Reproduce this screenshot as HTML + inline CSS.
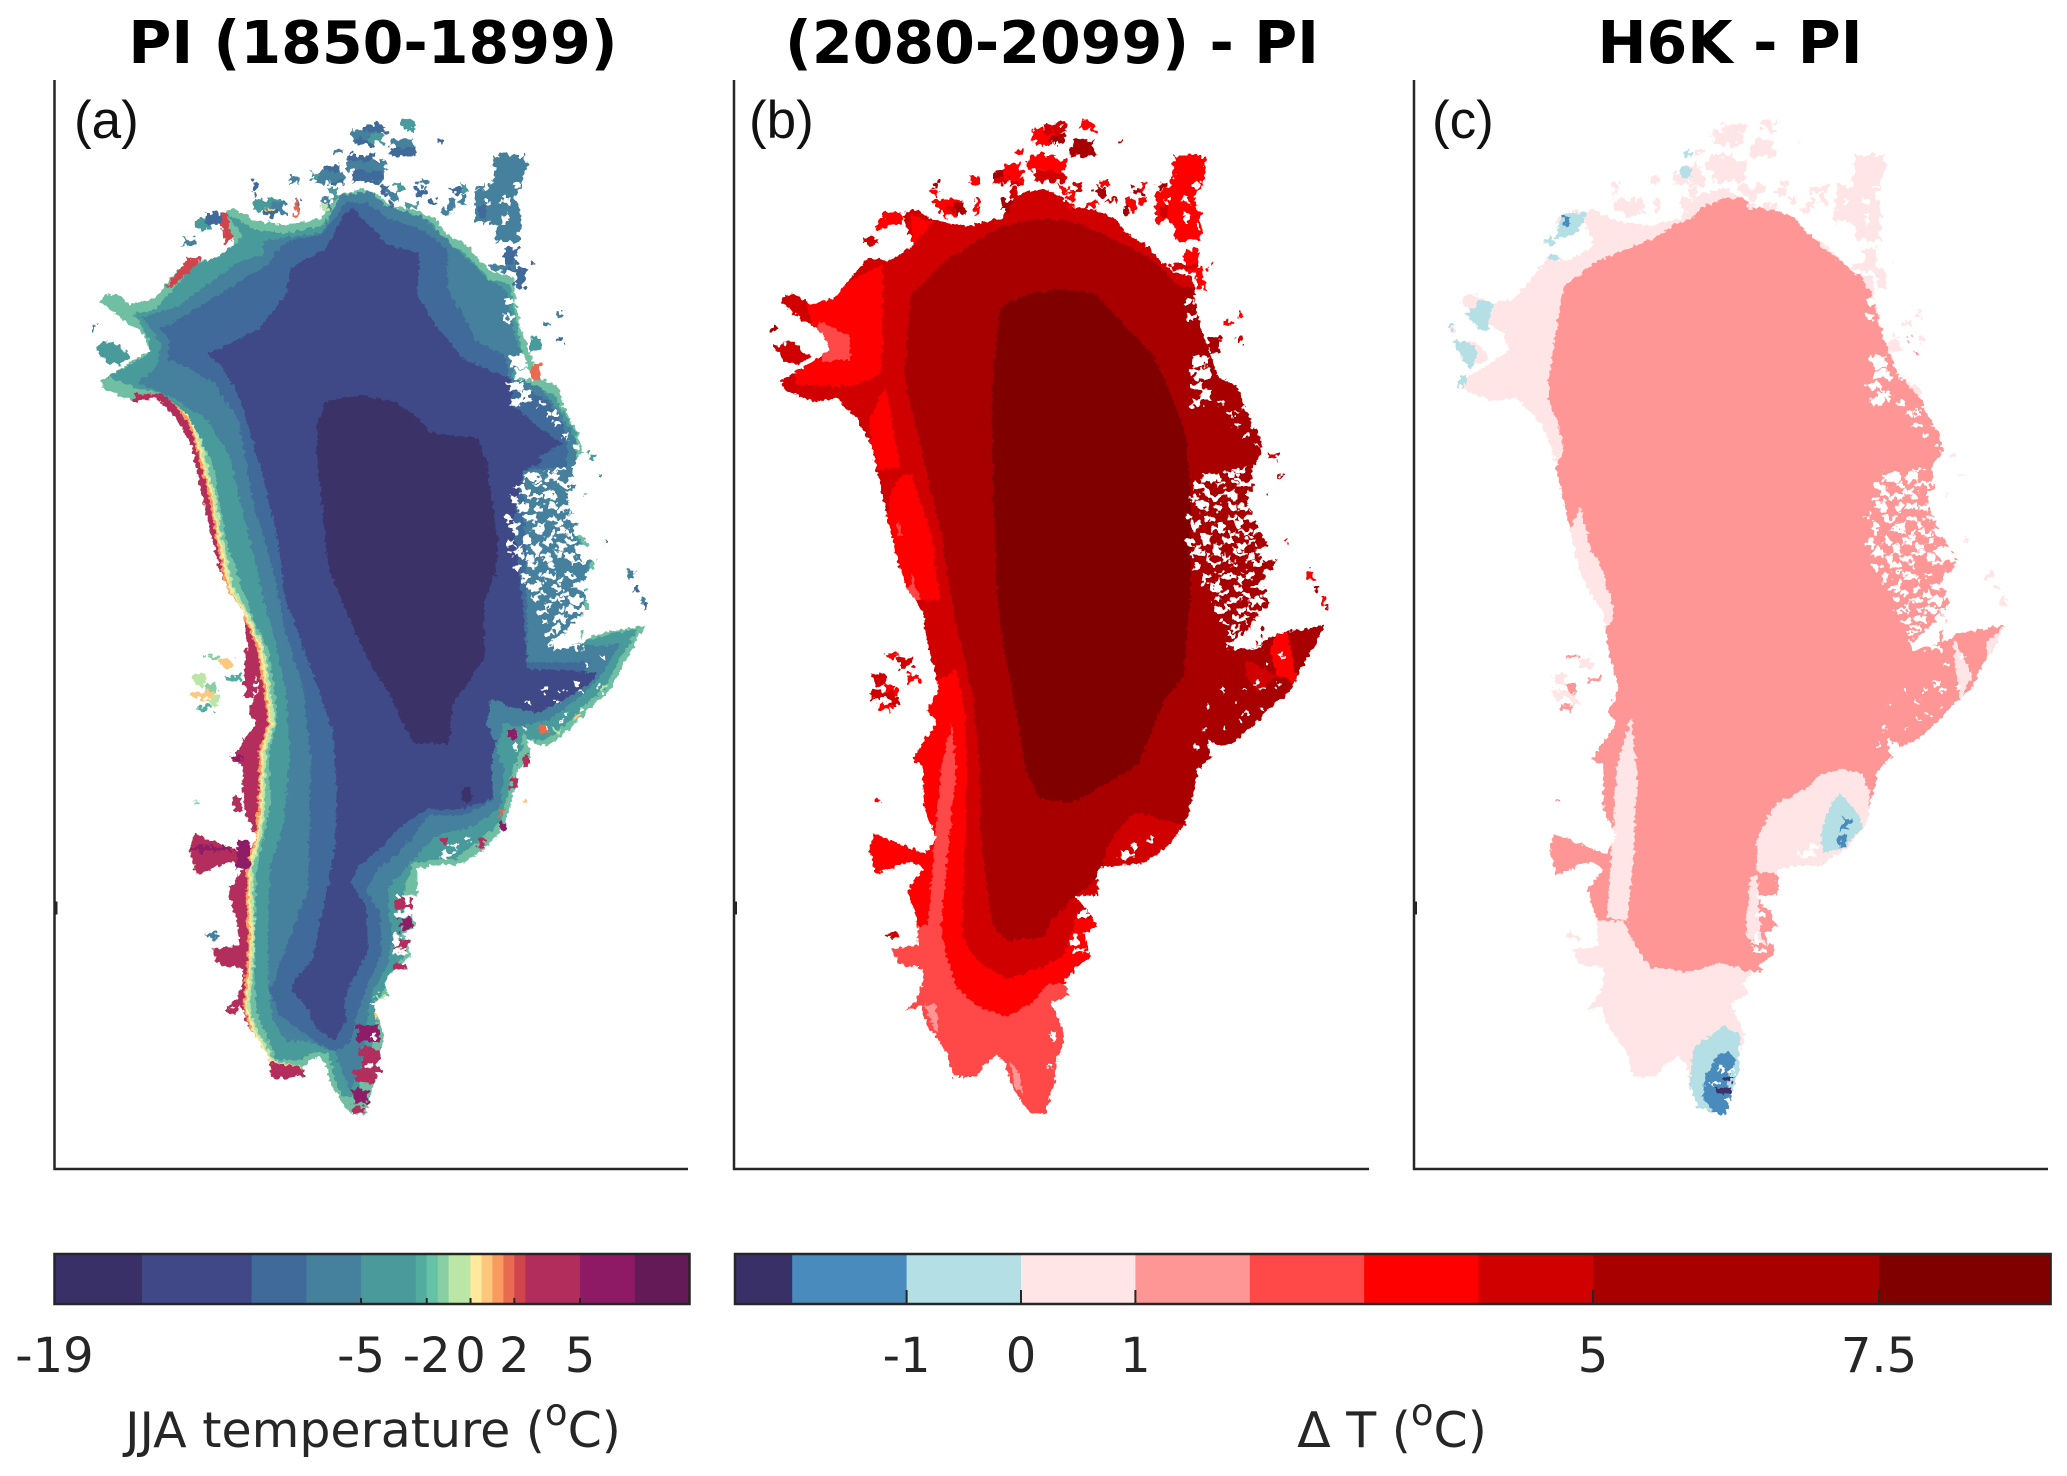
<!DOCTYPE html>
<html lang="en">
<head>
<meta charset="utf-8">
<title>Greenland JJA temperature panels</title>
<style>
html,body{margin:0;padding:0;background:#fff;}
svg{display:block;}
text{font-family:"DejaVu Sans",sans-serif;fill:#262626;}
.title{font-weight:bold;font-size:58.6px;fill:#000;text-anchor:middle;}
.plabel{font-family:"Liberation Sans",sans-serif;font-size:53px;fill:#111;}
.tick{font-size:48px;text-anchor:middle;}
.cbtitle{font-size:49px;text-anchor:middle;}
</style>
</head>
<body>
<svg id="fig" xmlns="http://www.w3.org/2000/svg" width="2067" height="1476" viewBox="0 0 2067 1476">
<rect width="2067" height="1476" fill="#fff"/>
<defs id="defs">
<filter id="rough" filterUnits="userSpaceOnUse" x="0" y="80" width="2067" height="1100">
<feTurbulence type="fractalNoise" baseFrequency="0.22" numOctaves="2" seed="4" result="n"/>
<feDisplacementMap in="SourceGraphic" in2="n" scale="7" xChannelSelector="R" yChannelSelector="G"/>
</filter>
<filter id="rougher" filterUnits="userSpaceOnUse" x="0" y="80" width="2067" height="1100">
<feTurbulence type="fractalNoise" baseFrequency="0.16" numOctaves="2" seed="9" result="n"/>
<feDisplacementMap in="SourceGraphic" in2="n" scale="13" xChannelSelector="G" yChannelSelector="R"/>
</filter>
</defs>
<g id="maps"></g>
<g id="axes"></g>
<g id="bars"></g>
<text class="title" x="373" y="63">PI (1850-1899)</text>
<text class="title" x="1052" y="63">(2080-2099) - PI</text>
<text class="title" x="1730" y="63">H6K - PI</text>
<text class="plabel" x="74" y="138">(a)</text>
<text class="plabel" x="749" y="138">(b)</text>
<text class="plabel" x="1432" y="138">(c)</text>
<text class="cbtitle" x="373" y="1447">JJA temperature (<tspan dy="-22" font-size="37">o</tspan><tspan dy="22">C)</tspan></text>
<text class="cbtitle" x="1392" y="1447">&#916; T (<tspan dy="-22" font-size="37">o</tspan><tspan dy="22">C)</tspan></text>
</svg>
<script>
// ---------- colour bar data ----------
var levelsA = [-19,-15,-10,-7.5,-5,-2.5,-2,-1.5,-1,0,0.5,1,1.5,2,2.5,5,7.5,10];
var colorsA = ['#3a3068','#414888','#3f6a9a','#45809c','#4a9a9b','#52ac9f','#66c2a5','#88d0a4','#bbe6a8','#fee99d','#fdc77d','#f99b5f','#e86a50','#d0444e','#b32d5c','#8e1a66','#651a58'];
var ticksA = [-19,-5,-2,0,2,5];
var tickLabelsA = ['-19','-5','-2','0','2','5'];
var levelsB = [-2.5,-2,-1,0,1,2,3,4,5,7.5,9];
var colorsB = ['#3a3068','#4a8bbd','#b4dfe5','#ffe5e5','#ff9696','#ff4848','#ff0000','#d00000','#a80000','#800000'];
var ticksB = [-1,0,1,5,7.5];
var tickLabelsB = ['-1','0','1','5','7.5'];

// ---------- map data (grid coordinates) ----------
var outline = [[770,505],[815,492],[850,512],[880,540],[930,548],[975,570],[1000,610],[1045,640],[1080,685],[1105,712],[1150,722],[1155,790],[1168,860],[1190,930],[1205,985],[1250,1010],[1270,1080],[1295,1130],[1305,1180],[1280,1225],[1290,1270],[1270,1310],[1300,1390],[1335,1460],[1320,1530],[1320,1568],[1310,1620],[1300,1680],[1340,1655],[1445,1633],[1420,1690],[1385,1760],[1370,1800],[1330,1840],[1290,1890],[1240,1940],[1210,1950],[1180,1930],[1190,1980],[1160,2010],[1150,2070],[1130,2160],[1085,2220],[1030,2260],[990,2260],[935,2270],[935,2340],[885,2340],[915,2380],[935,2420],[905,2440],[920,2500],[885,2530],[860,2570],[870,2600],[830,2620],[850,2670],[862,2710],[845,2770],[838,2830],[830,2860],[820,2912],[785,2908],[765,2880],[740,2830],[730,2780],[710,2760],[680,2785],[665,2813],[610,2813],[600,2760],[580,2720],[555,2680],[540,2630],[505,2640],[530,2610],[545,2570],[545,2530],[490,2520],[475,2480],[535,2470],[530,2400],[510,2325],[545,2270],[515,2250],[440,2285],[425,2220],[435,2178],[480,2200],[550,2230],[575,2190],[545,2110],[545,2000],[520,1985],[550,1930],[575,1890],[555,1860],[580,1800],[555,1690],[545,1600],[510,1540],[490,1480],[470,1380],[440,1230],[430,1170],[400,1100],[350,1040],[300,1050],[235,1020],[225,995],[290,950],[335,915],[320,870],[280,840],[225,790],[235,770],[265,770],[290,795],[345,780],[420,675],[470,680],[525,640],[505,590],[500,560],[520,545],[570,575],[640,590],[720,570],[750,515]];
var neBlock = [[1105,405],[1175,405],[1178,445],[1165,470],[1172,490],[1150,510],[1165,545],[1165,630],[1110,630],[1100,575],[1065,585],[1065,500],[1100,490],[1108,450]];
var nwIsland = [[210,905],[255,890],[290,930],[270,955],[235,945]];
var islandRects = [[790,340,60,25],[815,325,50,20],[900,315,25,20],[880,365,45,40],[780,405,60,30],[810,430,50,45],[725,430,35,30],[700,450,25,20],[750,390,20,15],[740,455,30,30],[650,460,20,20],[565,475,15,20],[570,520,60,30],[600,540,40,20],[660,520,10,40],[720,520,20,30],[850,485,20,20],[885,480,20,20],[940,470,20,15],[1010,490,30,15],[1000,520,20,30],[960,520,20,10],[905,530,30,15],[1070,480,15,15],[1130,650,30,60],[1100,690,60,15],[1155,700,22,55],[1185,880,25,40],[1215,840,20,10],[1250,880,10,15],[1250,815,8,15],[980,365,10,8],[440,570,30,30],[410,620,30,20],[460,555,40,30],[205,850,12,15],[1190,685,6,6],[1320,1185,15,15],[1405,1490,15,25],[1420,1530,12,15],[1435,1560,12,20],[1445,1578,6,10],[1310,1290,8,10],[1340,1240,12,6],[1355,1410,8,8],[465,2440,25,12],[795,360,40,20],[830,350,30,25],[775,420,90,25],[790,445,65,30],[720,445,50,30],[875,385,55,25],[915,320,15,25],[705,465,30,15],[565,500,10,15],[610,530,30,30],[590,550,30,15],[740,490,15,30],[870,500,20,25],[930,490,25,20],[1030,510,15,25],[1075,540,15,30],[1035,480,10,20],[990,540,15,20],[870,530,15,15]];
var swIslandRects = [[460,1710,30,10],[490,1720,30,25],[510,1765,30,15],[435,1760,25,30],[460,1790,25,25],[430,1805,50,20],[445,1840,30,15],[470,1820,20,25],[435,2090,12,6]];
var fjordHole = [[1325,1600],[1300,1650],[1300,1680],[1240,1700],[1225,1680],[1250,1665],[1280,1640],[1290,1610]];
var fjordRects = [[1145,930,35,30],[1150,965,40,25],[1140,1000,30,20],[1165,1020,25,25],[1145,1040,25,20],[1205,1050,15,10],[1225,1075,12,12],[1240,1105,15,10],[1260,1135,12,12],[1130,780,20,15],[1135,820,15,20],[1180,1235,30,10],[1240,1225,25,8],[1300,1235,40,15],[1150,1265,25,12],[1200,1262,20,10],[1245,1258,40,12],[1290,1265,20,20],[1145,1295,15,12],[1185,1292,30,12],[1235,1290,15,15],[1270,1295,30,15],[1160,1325,18,12],[1200,1320,15,18],[1250,1320,30,15],[1130,1345,15,15],[1175,1350,25,10],[1225,1350,20,15],[1265,1345,35,15],[1150,1380,10,15],[1190,1378,30,12],[1250,1380,15,12],[1285,1378,30,20],[1135,1410,15,20],[1170,1412,20,12],[1215,1405,25,15],[1270,1410,20,12],[1320,1405,30,25],[1145,1440,30,12],[1195,1438,15,15],[1240,1440,25,10],[1150,1475,15,12],[1185,1468,25,12],[1230,1470,15,12],[1280,1465,30,10],[1170,1498,15,15],[1215,1500,30,12],[1265,1495,20,15],[1310,1490,40,30],[1185,1530,25,12],[1240,1530,15,15],[1280,1525,25,12],[1195,1558,15,15],[1230,1562,30,10],[1275,1560,30,18],[1200,1590,25,12],[1250,1588,15,15],[1300,1590,30,15],[1215,1620,15,10],[1240,1610,30,15],[1285,1615,25,12],[1225,1650,15,12],[1265,1645,15,15],[1235,1685,70,10],[1395,1770,8,8],[1335,1790,6,8],[1300,1800,8,8],[1250,1880,8,6],[1010,2205,15,12],[1045,2190,15,10],[985,2225,30,15],[1000,2265,40,8],[905,2345,15,15],[890,2380,25,15],[880,2440,15,30],[880,2480,30,12],[845,2620,12,10],[830,2700,12,15],[820,2780,15,10],[1100,590,12,20],[1125,515,15,15],[1150,480,15,10],[1130,560,10,25],[1085,520,10,15]];
var fjordRects2 = [[1170,1240,40,18],[1225,1235,25,20],[1280,1245,45,20],[1165,1275,20,20],[1215,1280,25,15],[1270,1280,15,25],[1155,1310,25,18],[1225,1315,20,15],[1285,1320,50,20],[1145,1365,20,15],[1205,1365,15,20],[1245,1360,15,15],[1170,1395,15,18],[1230,1390,15,15],[1265,1385,15,18],[1155,1425,10,15],[1195,1422,15,18],[1245,1420,20,18],[1290,1430,40,20],[1180,1450,12,18],[1215,1452,20,15],[1270,1445,15,18],[1300,1445,35,20],[1170,1500,10,25],[1205,1490,8,10],[1250,1510,10,15],[1200,1515,12,15],[1300,1515,30,25],[1210,1545,15,12],[1260,1545,15,15],[1310,1540,25,30],[1220,1575,12,15],[1270,1585,15,15],[1235,1635,20,12],[1280,1590,20,10],[1180,1835,8,8],[1215,1800,8,10],[1240,1830,10,10],[1260,1800,8,8],[1285,1780,10,10],[1310,1735,8,10],[1345,1710,8,10],[1220,1900,8,8],[1265,1860,8,10],[1300,1850,8,8],[1170,1900,10,8],[1155,1945,8,12],[1260,1060,20,8],[1280,1100,15,12],[1285,1160,12,10],[1240,1075,12,8]];

// panel (a) layers
var warmCoastA = [[300,1030],[370,1030],[420,1100],[440,1170],[452,1230],[468,1300],[482,1400],[505,1530],[540,1600],[575,1690],[590,1800],[600,1888],[580,1960],[578,2108],[570,2188],[550,2268],[552,2368],[555,2468],[548,2570],[545,2640],[560,2690],[600,2775],[680,2790],[680,2900],[300,2900]];
var coolC1 = [[770,515],[815,505],[850,525],[880,550],[930,560],[970,585],[990,625],[1035,655],[1075,700],[1100,730],[1140,740],[1150,790],[1160,860],[1170,930],[1150,990],[1240,1030],[1290,1130],[1290,1180],[1270,1225],[1280,1270],[1260,1310],[1290,1390],[1325,1460],[1310,1540],[1310,1600],[1295,1680],[1340,1665],[1430,1640],[1400,1700],[1370,1760],[1355,1800],[1320,1830],[1280,1880],[1230,1930],[1200,1935],[1170,1920],[1170,1960],[1150,2000],[1140,2070],[1120,2150],[1070,2200],[1020,2245],[985,2245],[925,2255],[905,2330],[900,2420],[905,2500],[875,2540],[850,2610],[840,2700],[825,2780],[800,2860],[770,2870],[750,2820],[735,2750],[700,2750],[670,2770],[620,2770],[605,2730],[590,2690],[572,2640],[570,2530],[572,2400],[575,2268],[590,2190],[605,2100],[605,1960],[620,1880],[615,1800],[600,1690],[575,1640],[540,1530],[505,1400],[490,1300],[475,1210],[450,1150],[420,1085],[365,1030],[300,1010],[240,985],[330,930],[335,890],[300,820],[345,810],[440,690],[510,650],[545,620],[510,560],[570,600],[640,610],[720,590],[760,530]];
var coolC2 = [[760,510],[830,500],[860,535],[950,570],[985,610],[1060,690],[1090,725],[1135,760],[1150,860],[1170,940],[1140,985],[1210,1010],[1260,1090],[1290,1150],[1290,1400],[1320,1470],[1300,1620],[1295,1680],[1340,1690],[1390,1680],[1350,1760],[1300,1820],[1230,1880],[1160,1900],[1130,1890],[1110,1960],[1130,2010],[1120,2110],[1060,2160],[985,2180],[945,2220],[905,2275],[870,2320],[870,2380],[880,2450],[865,2530],[835,2590],[820,2680],[810,2780],[785,2850],[750,2750],[690,2720],[640,2720],[610,2660],[600,2570],[600,2450],[605,2268],[635,2150],[650,1968],[640,1800],[620,1690],[590,1570],[575,1480],[540,1320],[515,1190],[465,1100],[390,1040],[310,1000],[350,960],[360,900],[320,830],[400,800],[480,730],[540,680],[590,670],[590,630],[640,620],[720,610],[750,540]];
var coolC3 = [[775,530],[825,530],[860,565],[945,600],[1000,650],[1005,760],[1045,840],[1065,890],[1130,930],[1145,1000],[1230,1050],[1270,1130],[1270,1220],[1170,1230],[1180,1568],[1180,1730],[1320,1730],[1280,1810],[1200,1860],[1140,1840],[1095,1830],[1085,1880],[1095,1950],[1090,2010],[1105,2090],[1040,2130],[960,2130],[930,2180],[890,2230],[840,2280],[820,2330],[850,2380],[855,2490],[825,2570],[800,2650],[785,2720],[750,2750],[680,2700],[625,2650],[605,2590],[640,2480],[690,2320],[695,2100],[695,1968],[680,1800],[640,1650],[610,1480],[565,1300],[535,1100],[480,1000],[420,960],[375,940],[380,890],[360,860],[420,820],[520,750],[600,690],[640,630],[720,615],[760,550]];
var coolC4 = [[465,925],[580,860],[640,770],[650,700],[730,650],[770,560],[790,540],[825,590],[870,640],[940,660],[935,770],[975,850],[1040,940],[1140,990],[1150,1060],[1190,1100],[1260,1160],[1210,1190],[1210,1215],[1175,1225],[1150,1350],[1170,1568],[1175,1628],[1180,1748],[1340,1758],[1320,1788],[1250,1838],[1200,1863],[1150,1848],[1100,1828],[1090,1888],[1110,1938],[1100,2008],[1105,2088],[1020,2118],[960,2113],[900,2158],[860,2208],[800,2268],[785,2308],[820,2368],[825,2488],[790,2558],[770,2618],[775,2668],[750,2718],[710,2688],[690,2638],[655,2588],[660,2558],[700,2508],[725,2368],[750,2218],[755,2068],[745,1908],[700,1758],[650,1598],[640,1568],[620,1400],[590,1250],[540,1050],[500,960]];
var coreA = [[805,1033],[880,1050],[930,1085],[965,1130],[1070,1145],[1090,1200],[1105,1330],[1115,1420],[1110,1500],[1085,1568],[1085,1668],[1085,1718],[1045,1788],[1015,1838],[1005,1943],[930,1943],[905,1898],[870,1808],[830,1738],[790,1638],[765,1568],[740,1500],[730,1430],[720,1300],[710,1200],[710,1110],[730,1050]];
var spotA = [[1035,2055],[1055,2055],[1058,2090],[1045,2100],[1035,2090]];
var redStripN = [[495,555],[508,555],[522,625],[505,640],[498,600]];
var redStripNW = [[420,675],[450,672],[440,695],[385,750],[372,750]];
var purpleRectsA = [[518,1975,30,12],[548,1700,25,120],[545,1930,30,130],[530,2200,30,70],[505,2630,25,20],[610,2795,70,18],[800,2680,50,40],[810,2740,40,60],[795,2800,45,30],[790,2850,35,30],[790,2890,30,20],[885,2345,40,30],[895,2400,30,30],[880,2460,35,20],[880,2520,30,15],[1140,1905,15,25],[1145,2030,15,30],[1165,1975,20,25],[1120,2150,15,20],[1070,2190,15,25],[985,2190,15,15],[425,2210,90,15],[440,2255,20,20],[525,2080,15,40]];
var rimRectsA = [[1240,1905,15,12],[1285,1870,10,10],[1210,1895,15,20],[1350,1790,8,10],[1170,2090,12,10],[1120,2120,10,15],[845,2600,15,10],[835,2650,12,10],[660,520,8,40],[720,525,15,25],[600,540,15,10],[1190,955,20,35]];

// panel (b) layers
var redB = [[545,1748],[565,1868],[570,2008],[560,2348],[560,2448],[590,2508],[660,2558],[730,2533],[790,2498],[815,2430],[820,2400],[900,2400],[900,2700],[300,2700],[300,1780],[505,1778]];
var redB2 = [[420,1240],[440,1240],[490,1400],[505,1568],[300,1568],[380,1400],[390,1300]];
var redB3 = [[375,1020],[385,1020],[415,1220],[350,1230],[345,1100]];
var redNW = [[375,690],[290,740],[265,770],[200,790],[210,850],[170,900],[175,1005],[300,1010],[370,980],[375,860]];
var redN = [[440,560],[490,580],[445,640]];
var paleSouthB = [[300,2420],[510,2418],[520,2488],[545,2578],[590,2628],[660,2656],[720,2618],[760,2570],[900,2570],[900,3000],[300,3000]];
var paleStripB = [[535,1893],[545,2018],[530,2168],[510,2418],[480,2418],[490,2268],[510,1998]];
var paleNW = [[230,840],[300,880],[300,940],[240,945],[210,890]];
var paleSpot1 = [[412,1360],[422,1400],[408,1400]];
var paleSpot2 = [[445,1500],[460,1568],[425,1568]];
var pinkB1 = [[470,2625],[498,2625],[505,2700],[490,2680]];
var pinkB2 = [[668,2768],[690,2810],[700,2860],[680,2840]];
var mainB = [[440,770],[520,680],[650,590],[740,570],[820,580],[920,630],[1000,680],[1060,750],[1200,760],[1600,1200],[1600,1900],[1130,2000],[1100,2100],[1075,2158],[960,2123],[925,2158],[890,2218],[880,2288],[820,2338],[770,2398],[745,2448],[665,2458],[635,2428],[620,2368],[610,2268],[600,2168],[600,2018],[585,1828],[560,1708],[540,1618],[510,1400],[470,1200],[440,1060],[425,980],[430,900]];
var dPatchB = [[1210,1718],[1285,1768],[1240,1808],[1215,1768]];
var dPatchB2 = [[1285,1650],[1310,1650],[1330,1790],[1280,1760],[1270,1700]];
var coreB = [[645,800],[710,770],[780,755],[860,765],[910,820],[1000,930],[1040,1030],[1075,1140],[1085,1300],[1085,1568],[1080,1618],[1070,1768],[1025,1828],[965,1998],[890,2048],[810,2098],[735,2088],[705,2008],[680,1848],[650,1668],[640,1568],[630,1300],[628,1000]];

// panel (c) layers
var mainC = [[1600,1568],[1600,1800],[1200,2000],[1120,2170],[1000,2320],[900,2400],[880,2500],[860,2530],[795,2528],[750,2516],[680,2540],[590,2528],[550,2470],[528,2408],[300,2398],[300,1300],[365,1225],[385,1170],[370,1100],[350,1050],[350,980],[385,750],[460,685],[600,620],[640,590],[690,570],[710,540],[760,518],[800,520],[870,525],[930,565],[980,630],[1020,670],[1075,710],[1110,770],[1130,860],[1160,950],[1190,1000],[1240,1060],[1400,1160],[1600,1300]];
var lightSE = [[1040,2011],[1085,2020],[1105,2070],[1100,2160],[1000,2290],[930,2300],[880,2281],[838,2278],[838,2200],[848,2170],[880,2103],[960,2058],[985,2025]];
var lightStrip = [[543,1873],[558,2018],[550,2218],[535,2408],[487,2398],[510,2000],[525,1950]];
var lightNW = [[425,1325],[450,1440],[470,1470],[497,1568],[503,1610],[470,1668],[430,1640],[400,1568],[392,1400]];
var lightSmall = [[825,2288],[840,2288],[848,2440],[860,2470],[815,2450],[815,2380]];
var lightPen = [[1300,1668],[1345,1760],[1320,1830],[1310,1790]];
var lightTip = [[1380,1680],[1425,1630],[1380,1760]];
var iceC1 = [[190,785],[218,795],[205,865],[185,860],[155,820]];
var iceC2 = [[125,890],[165,895],[185,925],[165,965],[140,925]];
var iceC3 = [[380,560],[440,555],[415,610],[365,625]];
var iceC4 = [[1035,2068],[1085,2138],[1085,2168],[1040,2218],[995,2228],[990,2168],[1010,2108]];
var iceC5 = [[760,2678],[800,2708],[795,2798],[765,2913],[700,2893],[680,2838],[690,2738]];
var blueC1 = [[770,2748],[790,2768],[770,2828],[780,2868],[765,2913],[740,2908],[710,2868],[720,2808],[745,2758]];
var iceRectsC = [[660,435,25,30],[665,395,20,15],[112,848,15,10],[340,620,25,20],[350,665,25,15],[140,985,12,25]];
var blueRectsC = [[385,560,15,30],[1030,2178,15,40],[1040,2138,15,30]];
var navyRectsC = [[760,2813,20,10],[745,2843,35,15]];
var whiteRectsC = [[750,2790,15,10],[735,2830,10,8],[760,2870,15,8],[775,2795,10,12]];
var pinkRectsC = [[1195,880,8,10],[1210,920,8,8],[855,2375,15,40],[860,2470,20,25],[815,2490,40,20],[800,2520,50,15]];

// ---------- axis functions ----------
function yMap(v){return v/2.613;}
function xBz(z){return 720+z/2.306;}
function xCz(z){return 1400+z/2.351;}
function shift(k){return function(u){return u/2.24+680*k;};}
function barA(v){return 54.5+(v+19)*(635/29);}
function barB(v){return 1021+v*114.4;}

var NS='http://www.w3.org/2000/svg';
function make(tag,parent){var el=document.createElementNS(NS,tag);parent.appendChild(el);return el;}
function pointsOf(pts,fx){return pts.map(function(p){return fx(p[0]).toFixed(1)+','+yMap(p[1]).toFixed(1);}).join(' ');}
function poly(parent,pts,fx,fill,name){
  var el=make('polygon',parent);
  el.setAttribute('points',pointsOf(pts,fx));
  el.setAttribute('fill',fill);
  
  
  return el;
}
function rects(parent,list,fx,colorAt,name){
  var g=make('g',parent);
  
  
  g.setAttribute('filter','url(#rougher)');
  list.forEach(function(r,i){
    var el=make('rect',g);
    el.setAttribute('x',fx(r[0]).toFixed(1));
    el.setAttribute('y',yMap(r[1]).toFixed(1));
    el.setAttribute('width',Math.abs(fx(r[0]+r[2])-fx(r[0])).toFixed(1));
    el.setAttribute('height',(r[3]/2.613).toFixed(1));
    el.setAttribute('fill',typeof colorAt==='string'?colorAt:colorAt[i%colorAt.length]);
    
    
  });
}

var defs=document.getElementById('defs');
var maps=document.getElementById('maps');
function panelGroup(k,name){
  var fx=shift(k);
  var clip=make('clipPath',defs);
  clip.setAttribute('id','coast'+k);
  var cp=make('polygon',clip);
  cp.setAttribute('points',pointsOf(outline,fx));
  var outer=make('g',maps);
  
  
  var wrap=make('g',outer);
  wrap.setAttribute('filter','url(#rough)');
  
  
  var inner=make('g',wrap);
  inner.setAttribute('clip-path','url(#coast'+k+')');
  
  
  return {outer:outer,inner:inner,fx:fx};
}

// --- panel a ---
var pa=panelGroup(0,'panel-a-map');
poly(pa.inner,outline,pa.fx,'#6fbfa3','coast-rim');
[[16,colorsA[8]],[10,colorsA[9]],[5,colorsA[11]],[0,colorsA[14]]].forEach(function(s){
  var moved=warmCoastA.map(function(p){return [p[0]+s[0],p[1]];});
  poly(pa.inner,moved,pa.fx,s[1],'warm-coast-band');
});
poly(pa.inner,coolC1,pa.fx,colorsA[4],'band-minus-5');
poly(pa.inner,coolC2,pa.fx,colorsA[3],'band-minus-7');
poly(pa.inner,coolC3,pa.fx,colorsA[2],'band-minus-10');
poly(pa.inner,coolC4,pa.fx,colorsA[1],'band-minus-15');
poly(pa.inner,coreA,pa.fx,colorsA[0],'band-minus-19-core');
poly(pa.inner,spotA,pa.fx,colorsA[0],'band-minus-19-spot');
poly(pa.outer,neBlock,pa.fx,colorsA[3],'ne-block').setAttribute('filter','url(#rougher)');
poly(pa.outer,nwIsland,pa.fx,colorsA[4],'nw-island').setAttribute('filter','url(#rougher)');
rects(pa.outer,islandRects,pa.fx,[colorsA[3],colorsA[2],colorsA[4],colorsA[3],colorsA[2]],'coastal-islands');
rects(pa.outer,swIslandRects,pa.fx,[colorsA[7],colorsA[10],colorsA[5],colorsA[8]],'southwest-islands');
poly(pa.outer,redStripN,pa.fx,colorsA[13],'north-warm-strip').setAttribute('filter','url(#rough)');
poly(pa.outer,redStripNW,pa.fx,colorsA[13],'northwest-warm-strip').setAttribute('filter','url(#rough)');
rects(pa.outer,purpleRectsA,pa.fx,[colorsA[15],colorsA[14],colorsA[14]],'warm-coast-patches');
rects(pa.outer,rimRectsA,pa.fx,[colorsA[8],colorsA[10],colorsA[12]],'rim-patches');
poly(pa.outer,fjordHole,pa.fx,'#fff','fjord-hole').setAttribute('filter','url(#rougher)');
rects(pa.outer,fjordRects,pa.fx,'#fff','fjords');
rects(pa.outer,fjordRects2,pa.fx,'#fff','fjords-extra');

// --- panel b ---
var pb=panelGroup(1,'panel-b-map');
poly(pb.inner,outline,pb.fx,colorsB[7],'band-4');
poly(pb.inner,redB,xBz,colorsB[6],'band-3-south');
poly(pb.inner,redB2,xBz,colorsB[6],'band-3-west');
poly(pb.inner,redB3,xBz,colorsB[6],'band-3-west-upper');
poly(pb.inner,redNW,xBz,colorsB[6],'band-3-northwest');
poly(pb.inner,redN,xBz,colorsB[6],'band-3-north');
poly(pb.inner,paleSouthB,xBz,colorsB[5],'band-2-south');
poly(pb.inner,paleStripB,xBz,colorsB[5],'band-2-strip');
poly(pb.inner,paleNW,xBz,colorsB[5],'band-2-northwest');
poly(pb.inner,paleSpot1,xBz,colorsB[5],'band-2-spot');
poly(pb.inner,paleSpot2,xBz,colorsB[5],'band-2-spot');
poly(pb.inner,pinkB1,xBz,colorsB[4],'band-1-spot');
poly(pb.inner,pinkB2,xBz,colorsB[4],'band-1-spot');
poly(pb.inner,mainB,xBz,colorsB[8],'band-5');
poly(pb.inner,dPatchB,xBz,colorsB[7],'band-4-southeast');
poly(pb.inner,dPatchB2,xBz,colorsB[6],'band-3-southeast');
poly(pb.inner,coreB,xBz,colorsB[9],'band-7-core');
poly(pb.outer,neBlock,pb.fx,colorsB[6],'ne-block').setAttribute('filter','url(#rougher)');
poly(pb.outer,nwIsland,pb.fx,colorsB[7],'nw-island').setAttribute('filter','url(#rougher)');
rects(pb.outer,islandRects,pb.fx,[colorsB[6],colorsB[7],colorsB[6],colorsB[8]],'coastal-islands');
rects(pb.outer,swIslandRects,pb.fx,[colorsB[6],colorsB[7]],'southwest-islands');
poly(pb.outer,fjordHole,pb.fx,'#fff','fjord-hole').setAttribute('filter','url(#rougher)');
rects(pb.outer,fjordRects,pb.fx,'#fff','fjords');
rects(pb.outer,fjordRects2,pb.fx,'#fff','fjords-extra');

// --- panel c ---
var pc=panelGroup(2,'panel-c-map');
poly(pc.inner,outline,pc.fx,colorsB[3],'band-0');
poly(pc.inner,mainC,xCz,colorsB[4],'band-1');
poly(pc.inner,lightSE,xCz,colorsB[3],'band-0-southeast');
poly(pc.inner,lightStrip,xCz,colorsB[3],'band-0-strip');
poly(pc.inner,lightNW,xCz,colorsB[3],'band-0-northwest');
poly(pc.inner,lightSmall,xCz,colorsB[3],'band-0-small-strip');
poly(pc.inner,lightPen,xCz,colorsB[3],'band-0-peninsula');
poly(pc.inner,lightTip,xCz,colorsB[3],'band-0-tip');
poly(pc.outer,neBlock,pc.fx,colorsB[3],'ne-block').setAttribute('filter','url(#rougher)');
poly(pc.outer,nwIsland,pc.fx,colorsB[3],'nw-island').setAttribute('filter','url(#rougher)');
rects(pc.outer,islandRects,pc.fx,colorsB[3],'coastal-islands');
rects(pc.outer,swIslandRects,pc.fx,[colorsB[4],colorsB[3]],'southwest-islands');
poly(pc.outer,fjordHole,pc.fx,'#fff','fjord-hole').setAttribute('filter','url(#rougher)');
rects(pc.outer,fjordRects,pc.fx,'#fff','fjords');
rects(pc.outer,fjordRects2,pc.fx,'#fff','fjords-extra');
rects(pc.outer,pinkRectsC,xCz,colorsB[4],'warm-patches');
poly(pc.outer,iceC1,xCz,colorsB[2],'cool-patch-nw').setAttribute('filter','url(#rough)');
poly(pc.outer,iceC2,xCz,colorsB[2],'cool-patch-nw-lower').setAttribute('filter','url(#rough)');
poly(pc.outer,iceC3,xCz,colorsB[2],'cool-patch-north').setAttribute('filter','url(#rough)');
poly(pc.outer,iceC4,xCz,colorsB[2],'cool-patch-southeast').setAttribute('filter','url(#rough)');
poly(pc.outer,iceC5,xCz,colorsB[2],'cool-patch-south').setAttribute('filter','url(#rough)');
poly(pc.outer,blueC1,xCz,colorsB[1],'cold-patch-south').setAttribute('filter','url(#rough)');
rects(pc.outer,iceRectsC,xCz,colorsB[2],'cool-patches');
rects(pc.outer,blueRectsC,xCz,colorsB[1],'cold-patches');
rects(pc.outer,whiteRectsC,xCz,'#fff','gap-patches');
rects(pc.outer,navyRectsC,xCz,colorsB[0],'coldest-patches');

// --- axes ---
var axes=document.getElementById('axes');
[[54.5,688,'a'],[734,1369,'b'],[1414,2048,'c']].forEach(function(a){
  var g=make('g',axes);
  
  
  var l=make('line',g);
  l.setAttribute('x1',a[0]);l.setAttribute('x2',a[0]);
  l.setAttribute('y1',80);l.setAttribute('y2',1170);
  l.setAttribute('stroke','#262626');l.setAttribute('stroke-width',2.5);
  
  
  var b=make('line',g);
  b.setAttribute('x1',a[0]-1);b.setAttribute('x2',a[1]);
  b.setAttribute('y1',1169);b.setAttribute('y2',1169);
  b.setAttribute('stroke','#262626');b.setAttribute('stroke-width',2.5);
  
  
  var t=make('line',g);
  t.setAttribute('x1',a[0]);t.setAttribute('x2',a[0]+3);
  t.setAttribute('y1',908);t.setAttribute('y2',908);
  t.setAttribute('stroke','#262626');t.setAttribute('stroke-width',13);
  
  
});

// --- colour bars ---
var bars=document.getElementById('bars');
function colorbar(levels,colors,ticks,labels,fx,tickLen,name){
  var g=make('g',bars);
  
  
  var top=1254,bot=1304;
  colors.forEach(function(c,i){
    var r=make('rect',g);
    r.setAttribute('x',fx(levels[i]).toFixed(1));
    r.setAttribute('y',top);
    r.setAttribute('width',(fx(levels[i+1])-fx(levels[i])+0.5).toFixed(1));
    r.setAttribute('height',bot-top);
    r.setAttribute('fill',c);
    
    
  });
  var fr=make('rect',g);
  fr.setAttribute('x',fx(levels[0]));
  fr.setAttribute('y',top);
  fr.setAttribute('width',fx(levels[levels.length-1])-fx(levels[0]));
  fr.setAttribute('height',bot-top);
  fr.setAttribute('fill','none');
  fr.setAttribute('stroke','#262626');
  fr.setAttribute('stroke-width',2.5);
  
  
  ticks.forEach(function(v,i){
    var px=fx(v);
    var t=make('line',g);
    t.setAttribute('x1',px);t.setAttribute('x2',px);
    t.setAttribute('y1',bot-tickLen);t.setAttribute('y2',bot);
    t.setAttribute('stroke','#262626');t.setAttribute('stroke-width',2);
    
    
    var tx=make('text',g);
    tx.setAttribute('class','tick');
    tx.setAttribute('x',px.toFixed(1));
    tx.setAttribute('y',1372);
    tx.textContent=labels[i];
    
    
  });
}
colorbar(levelsA,colorsA,ticksA,tickLabelsA,barA,6,'colorbar-temperature');
colorbar(levelsB,colorsB,ticksB,tickLabelsB,barB,14,'colorbar-delta-t');
</script>
</body>
</html>
